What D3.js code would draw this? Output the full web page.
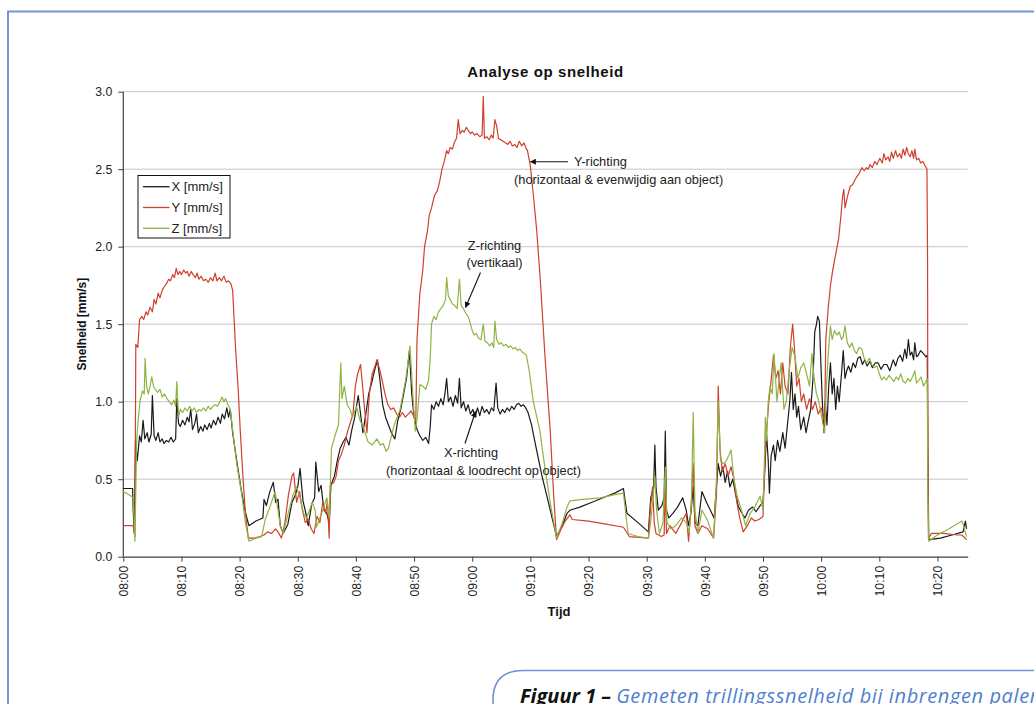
<!DOCTYPE html>
<html>
<head>
<meta charset="utf-8">
<script src="https://cdn.jsdelivr.net/npm/d3@7"></script>
<style>
  html, body { margin: 0; padding: 0; background: #fff; overflow: hidden; }
  svg { display: block; }
</style>
</head>
<body>
<svg id="chart" width="1034" height="704"></svg>
<script>
// Measured vibration velocity per direction; [minutes after 08:00, mm/s]
const seriesX = [
  [0,0.44],[1.6,0.44],[1.7,0.30],[1.9,0.15],[2.1,0.75],[2.4,0.62],[2.8,0.78],[3.1,0.74],[3.4,0.88],[3.7,0.76],
  [4.1,0.80],[4.4,0.74],[4.8,0.79],[5.0,1.04],[5.3,0.78],[5.6,0.75],[6.0,0.80],[6.3,0.74],[6.7,0.76],[7.0,0.73],
  [7.4,0.75],[7.8,0.74],[8.2,0.77],[8.6,0.74],[9.0,0.76],[9.2,1.02],[9.5,0.86],[9.8,0.84],[10.2,0.88],[10.6,0.85],
  [11.0,0.90],[11.3,0.87],[11.6,0.95],[11.9,0.82],[12.3,0.86],[12.6,0.92],[12.9,0.80],[13.3,0.84],[13.7,0.81],[14.0,0.85],
  [14.4,0.82],[14.8,0.86],[15.1,0.83],[15.5,0.88],[15.9,0.85],[16.3,0.90],[16.7,0.86],[17.0,0.92],[17.4,0.89],[17.8,0.96],
  [18.1,0.90],[18.4,0.95],[18.8,0.80],[19.5,0.62],[20.2,0.45],[20.9,0.30],[21.6,0.20],[22.8,0.23],[24.0,0.25],[24.2,0.37],
  [24.6,0.33],[25.2,0.42],[25.8,0.48],[26.2,0.35],[26.6,0.37],[27.0,0.20],[27.5,0.15],[28.3,0.21],[29.0,0.35],[29.6,0.40],
  [30.0,0.45],[30.4,0.57],[30.9,0.36],[31.4,0.28],[31.8,0.20],[32.4,0.34],[32.9,0.38],[33.1,0.61],[33.6,0.42],[34.0,0.46],
  [34.5,0.30],[35.0,0.28],[35.4,0.22],[35.7,0.46],[36.3,0.52],[36.8,0.62],[37.3,0.70],[37.8,0.74],[38.3,0.77],[38.8,0.72],
  [39.3,0.82],[39.8,0.90],[40.4,1.04],[40.8,0.92],[41.2,0.80],[41.7,0.92],[42.2,1.05],[42.7,1.12],[43.2,1.20],[43.7,1.27],
  [44.1,1.15],[44.6,0.98],[45.1,0.90],[45.6,0.85],[46.1,0.80],[46.7,0.76],[47.2,0.88],[47.7,0.95],[48.2,1.05],[48.7,1.15],
  [49.2,1.33],[49.6,1.05],[50.0,0.90],[50.5,0.82],[51.0,0.78],[51.5,0.75],[52.0,0.77],[52.5,0.73],[52.8,0.85],[53.0,0.98],
  [53.4,0.95],[53.8,1.00],[54.2,0.97],[54.6,1.02],[55.0,0.98],[55.3,1.05],[55.6,1.15],[55.9,1.00],[56.3,1.03],[56.7,0.97],
  [57.1,1.04],[57.5,0.99],[57.8,1.15],[58.1,0.96],[58.5,1.00],[58.9,0.94],[59.3,0.98],[59.7,0.92],[60.1,0.95],[60.5,0.90],
  [60.9,0.96],[61.3,0.91],[61.7,0.97],[62.1,0.93],[62.5,0.95],[62.9,0.92],[63.3,0.96],[63.7,0.94],[64.1,1.12],[64.4,0.96],
  [64.8,0.92],[65.2,0.95],[65.6,0.93],[66.0,0.96],[66.4,0.94],[66.8,0.97],[67.2,0.95],[67.6,0.98],[68.0,0.99],[68.4,0.97],
  [68.8,0.98],[69.2,0.96],[69.6,0.93],[70.2,0.85],[71.0,0.70],[72.0,0.52],[73.1,0.35],[74.5,0.13],[75.5,0.20],[76.3,0.28],
  [76.8,0.30],[78.5,0.32],[80.5,0.35],[82.5,0.38],[84.5,0.41],[86.0,0.44],[86.6,0.28],[88.5,0.22],[90.3,0.16],[90.7,0.38],
  [91.2,0.45],[91.4,0.72],[91.6,0.45],[92.0,0.30],[92.6,0.33],[93.0,0.38],[93.2,0.81],[93.4,0.30],[93.8,0.25],[94.5,0.28],
  [95.3,0.32],[96.2,0.38],[96.8,0.30],[97.2,0.20],[97.6,0.28],[98.0,0.45],[98.3,0.22],[98.8,0.20],[99.5,0.42],[100.3,0.35],
  [101.2,0.28],[101.6,0.25],[102.0,0.45],[102.3,0.60],[102.7,0.52],[103.1,0.58],[103.5,0.48],[103.9,0.55],[104.3,0.45],[104.8,0.50],
  [105.3,0.40],[105.8,0.32],[106.4,0.28],[106.9,0.25],[107.5,0.30],[108.2,0.32],[108.8,0.29],[109.5,0.33],[110.0,0.35],[110.3,0.55],
  [110.6,0.80],[110.9,0.62],[111.1,0.41],[111.4,0.65],[111.8,0.72],[112.1,0.62],[112.5,0.75],[112.9,0.68],[113.4,0.80],[113.8,0.70],
  [114.2,0.85],[114.6,1.00],[114.9,1.19],[115.2,0.95],[115.5,1.05],[115.8,0.90],[116.1,0.97],[116.5,0.82],[117.0,0.90],[117.4,0.80],
  [117.7,0.86],[118.2,0.95],[118.6,1.15],[118.9,1.45],[119.2,1.50],[119.4,1.55],[119.7,1.52],[119.9,1.30],[120.2,1.00],[120.5,0.80],
  [120.7,1.00],[121.0,0.85],[121.3,1.10],[121.6,1.25],[121.9,1.05],[122.2,1.15],[122.5,0.95],[122.8,1.10],[123.1,1.00],[123.5,1.18],
  [123.8,1.33],[124.1,1.15],[124.4,1.20],[124.7,1.23],[125.1,1.19],[125.5,1.25],[125.9,1.22],[126.3,1.28],[126.7,1.29],[127.1,1.24],
  [127.5,1.27],[127.9,1.23],[128.4,1.26],[128.8,1.22],[129.3,1.25],[129.8,1.25],[130.3,1.21],[130.8,1.24],[131.3,1.24],[131.8,1.20],
  [132.4,1.27],[132.8,1.23],[133.2,1.28],[133.6,1.30],[134.0,1.26],[134.4,1.34],[134.7,1.28],[135.0,1.40],[135.3,1.30],[135.6,1.32],
  [135.9,1.27],[136.1,1.38],[136.4,1.29],[136.7,1.30],[137.1,1.33],[137.6,1.31],[138.0,1.29],[138.25,1.30],[138.35,0.70],[138.5,0.11],
  [140.5,0.12],[142.5,0.14],[144.4,0.16],[144.8,0.23],[145.0,0.18]
];

const seriesY = [
  [0,0.20],[1.0,0.20],[1.7,0.20],[1.8,0.17],[2.0,0.13],[2.15,1.37],[2.5,1.35],[2.8,1.53],[3.2,1.55],[3.5,1.53],
  [3.9,1.58],[4.2,1.56],[4.6,1.61],[5.0,1.58],[5.3,1.66],[5.6,1.63],[6.0,1.70],[6.3,1.67],[6.7,1.72],[7.0,1.74],
  [7.4,1.76],[7.8,1.79],[8.1,1.78],[8.5,1.82],[8.8,1.80],[9.1,1.86],[9.4,1.82],[9.7,1.84],[10.0,1.82],[10.4,1.85],
  [10.7,1.83],[11.0,1.84],[11.3,1.81],[11.7,1.84],[12.0,1.82],[12.4,1.80],[12.7,1.83],[13.0,1.79],[13.4,1.81],[13.8,1.78],
  [14.2,1.79],[14.6,1.77],[15.0,1.80],[15.4,1.78],[15.8,1.83],[16.1,1.78],[16.5,1.80],[16.9,1.78],[17.3,1.81],[17.7,1.77],
  [18.1,1.78],[18.5,1.76],[18.8,1.72],[19.3,1.35],[19.8,1.05],[20.1,0.82],[20.6,0.50],[21.0,0.28],[21.5,0.12],[22.5,0.12],
  [23.5,0.13],[24.2,0.14],[24.8,0.16],[25.5,0.15],[26.2,0.18],[26.6,0.16],[27.2,0.12],[27.8,0.22],[28.4,0.40],[29.0,0.52],
  [29.3,0.54],[29.8,0.35],[30.3,0.42],[30.8,0.30],[31.3,0.22],[31.8,0.24],[32.3,0.18],[32.8,0.15],[33.3,0.26],[33.8,0.22],
  [34.3,0.35],[34.8,0.28],[35.1,0.36],[35.4,0.12],[35.6,0.46],[36.2,0.48],[36.6,0.52],[37.0,0.62],[37.5,0.66],[38.0,0.72],
  [38.5,0.80],[39.0,0.86],[39.5,0.92],[39.9,1.10],[40.3,1.18],[40.8,1.24],[41.1,1.12],[41.5,0.95],[41.9,0.80],[42.3,1.05],
  [42.8,1.18],[43.2,1.22],[43.6,1.27],[44.0,1.22],[44.5,1.14],[45.0,1.05],[45.5,0.98],[46.0,0.95],[46.5,0.96],[47.0,0.92],
  [47.5,0.90],[48.0,0.93],[48.5,0.90],[49.0,0.92],[49.5,0.94],[50.0,0.90],[50.3,0.88],[50.5,1.40],[51.0,1.70],[51.5,1.85],
  [51.8,2.00],[52.3,2.10],[52.6,2.20],[53.0,2.25],[53.5,2.33],[54.0,2.36],[54.4,2.42],[54.8,2.50],[55.2,2.55],[55.6,2.62],
  [55.9,2.60],[56.2,2.64],[56.6,2.63],[56.9,2.67],[57.3,2.70],[57.6,2.82],[57.9,2.73],[58.3,2.75],[58.6,2.74],[59.0,2.77],
  [59.3,2.75],[59.7,2.73],[60.0,2.74],[60.4,2.72],[60.8,2.73],[61.3,2.71],[61.7,2.72],[61.9,2.97],[62.1,2.70],[62.5,2.71],
  [62.9,2.69],[63.3,2.72],[63.6,2.70],[63.9,2.82],[64.2,2.78],[64.5,2.70],[64.9,2.69],[65.3,2.68],[65.7,2.67],[66.1,2.66],
  [66.5,2.68],[66.9,2.65],[67.3,2.66],[67.7,2.64],[68.1,2.68],[68.5,2.65],[68.9,2.67],[69.2,2.64],[69.5,2.62],[70.0,2.52],
  [70.6,2.30],[71.1,2.10],[71.7,1.79],[72.5,1.30],[73.4,0.82],[74.0,0.40],[74.5,0.11],[75.3,0.18],[76.0,0.23],[76.8,0.27],
  [77.2,0.24],[80.0,0.23],[83.0,0.21],[86.0,0.19],[87.0,0.13],[90.3,0.12],[90.6,0.30],[91.0,0.45],[91.3,0.22],[91.6,0.15],
  [92.5,0.13],[93.0,0.14],[93.2,0.48],[93.4,0.15],[94.0,0.20],[95.0,0.15],[96.0,0.22],[96.8,0.28],[97.2,0.10],[97.6,0.30],
  [98.0,0.60],[98.3,0.20],[98.8,0.15],[99.5,0.20],[100.5,0.18],[101.5,0.12],[102.0,0.40],[102.3,1.10],[102.6,0.70],[103.0,0.55],
  [103.5,0.60],[104.0,0.52],[104.5,0.58],[105.0,0.50],[105.5,0.35],[106.0,0.25],[106.6,0.16],[107.3,0.20],[108.0,0.25],[108.6,0.23],
  [109.3,0.24],[110.0,0.26],[110.3,0.60],[110.6,0.80],[111.0,1.00],[111.3,1.10],[111.8,1.30],[112.2,1.15],[112.6,1.20],[113.0,1.05],
  [113.4,1.25],[113.8,1.10],[114.3,1.05],[114.7,1.35],[115.1,1.50],[115.4,1.35],[115.8,1.10],[116.2,1.15],[116.6,1.00],[117.0,1.05],
  [117.5,0.95],[118.0,1.02],[118.5,0.95],[119.0,1.00],[119.5,0.92],[120.0,0.96],[120.4,0.90],[120.6,0.86],[120.8,1.40],[121.2,1.60],
  [121.6,1.75],[122.0,1.85],[122.5,1.95],[123.0,2.05],[123.4,2.20],[123.7,2.33],[123.9,2.37],[124.1,2.25],[124.5,2.32],[125.0,2.39],
  [125.4,2.40],[125.8,2.43],[126.1,2.45],[126.5,2.47],[127.0,2.51],[127.4,2.49],[127.8,2.51],[128.1,2.50],[128.4,2.53],[128.8,2.51],
  [129.2,2.55],[129.6,2.53],[130.1,2.57],[130.5,2.54],[130.8,2.60],[131.1,2.56],[131.5,2.58],[131.8,2.55],[132.1,2.61],[132.4,2.57],
  [132.8,2.62],[133.1,2.58],[133.5,2.60],[133.8,2.57],[134.1,2.63],[134.4,2.59],[134.7,2.64],[135.0,2.60],[135.3,2.58],[135.6,2.62],
  [135.9,2.57],[136.1,2.63],[136.4,2.56],[136.8,2.57],[137.1,2.54],[137.5,2.55],[137.9,2.52],[138.2,2.50],[138.3,1.90],[138.35,0.70],
  [138.45,0.12],[139.0,0.15],[141.0,0.15],[143.5,0.14],[144.2,0.14],[145.0,0.11]
];

const seriesZ = [
  [0,0.42],[1.0,0.40],[1.7,0.38],[2.0,0.10],[2.3,0.75],[2.6,0.90],[2.9,1.01],[3.3,1.07],[3.6,1.05],[3.75,1.28],
  [4.0,1.10],[4.3,1.05],[4.6,1.10],[4.9,1.16],[5.2,1.10],[5.5,1.08],[5.9,1.06],[6.3,1.08],[6.7,1.03],[7.1,1.05],
  [7.5,1.02],[7.9,1.00],[8.3,0.98],[8.7,1.01],[9.0,0.97],[9.2,1.13],[9.5,0.90],[9.8,0.95],[10.2,0.93],[10.6,0.96],
  [11.0,0.94],[11.4,0.97],[11.8,0.94],[12.2,0.96],[12.6,0.93],[13.0,0.95],[13.4,0.94],[13.8,0.96],[14.2,0.94],[14.6,0.97],
  [15.0,0.95],[15.4,0.97],[15.8,0.98],[16.2,0.97],[16.6,1.00],[17.0,1.03],[17.3,1.00],[17.6,1.02],[18.0,0.98],[18.4,0.95],
  [18.8,0.82],[19.5,0.60],[20.3,0.42],[21.0,0.22],[21.6,0.10],[22.8,0.12],[23.8,0.13],[24.4,0.24],[25.2,0.32],[26.1,0.42],
  [26.6,0.30],[27.0,0.20],[27.5,0.15],[28.5,0.30],[29.2,0.40],[29.8,0.45],[30.4,0.38],[31.0,0.28],[31.5,0.25],[32.5,0.35],
  [33.0,0.30],[33.2,0.19],[33.8,0.25],[34.3,0.30],[35.0,0.38],[35.4,0.25],[35.8,0.70],[36.4,0.78],[37.0,0.85],[37.4,1.25],
  [37.6,1.02],[38.0,1.10],[38.5,0.98],[39.0,0.95],[39.4,0.90],[40.1,0.97],[40.7,0.88],[41.3,0.83],[42.1,0.74],[42.8,0.72],
  [43.6,0.76],[44.2,0.72],[44.7,0.73],[45.2,0.68],[45.6,0.70],[46.1,0.78],[46.6,0.85],[47.1,0.90],[47.6,0.95],[48.1,1.05],
  [48.6,1.15],[49.3,1.36],[49.7,1.10],[50.2,0.81],[50.5,0.88],[51.0,1.11],[51.5,1.10],[52.0,1.08],[52.5,1.14],[52.8,1.30],
  [53.0,1.50],[53.4,1.55],[53.8,1.53],[54.2,1.58],[54.6,1.60],[55.0,1.62],[55.4,1.66],[55.6,1.80],[55.9,1.68],[56.2,1.66],
  [56.6,1.63],[57.0,1.62],[57.4,1.60],[57.8,1.79],[58.1,1.62],[58.5,1.60],[58.9,1.57],[59.3,1.55],[59.7,1.50],[60.0,1.46],
  [60.3,1.43],[60.7,1.44],[61.1,1.41],[61.5,1.40],[61.9,1.50],[62.2,1.39],[62.6,1.38],[63.0,1.36],[63.4,1.38],[63.7,1.35],
  [63.9,1.52],[64.2,1.40],[64.6,1.37],[65.0,1.38],[65.4,1.36],[65.8,1.37],[66.2,1.35],[66.6,1.36],[67.0,1.34],[67.4,1.35],
  [67.8,1.33],[68.2,1.34],[68.6,1.32],[69.0,1.31],[69.3,1.30],[69.8,1.20],[70.5,1.00],[71.6,0.82],[72.4,0.60],[73.4,0.35],
  [74.5,0.12],[75.5,0.22],[76.3,0.32],[76.8,0.36],[79.0,0.37],[82.0,0.38],[84.5,0.40],[86.0,0.41],[86.8,0.15],[88.5,0.13],
  [90.3,0.12],[90.6,0.20],[91.1,0.38],[91.4,0.52],[91.7,0.30],[92.2,0.15],[92.8,0.22],[93.2,0.58],[93.5,0.22],[94.2,0.18],
  [95.0,0.20],[96.0,0.25],[96.8,0.22],[97.3,0.16],[97.7,0.35],[98.0,0.93],[98.3,0.30],[98.8,0.15],[99.5,0.30],[100.4,0.24],
  [101.5,0.12],[102.0,0.50],[102.3,1.00],[102.7,0.62],[103.2,0.60],[103.7,0.62],[104.2,0.66],[104.5,0.69],[105.0,0.50],[105.5,0.40],
  [106.3,0.30],[107.0,0.20],[107.8,0.28],[108.6,0.32],[109.5,0.39],[110.0,0.30],[110.2,0.55],[110.4,0.90],[110.6,0.75],[110.9,1.00],
  [111.2,1.10],[111.6,1.05],[111.9,1.31],[112.4,1.00],[112.8,1.15],[113.1,1.25],[113.6,0.95],[114.0,1.00],[114.5,1.20],[115.0,1.35],
  [115.5,1.29],[116.0,1.15],[116.5,1.22],[117.0,1.25],[117.5,1.18],[118.0,1.10],[118.4,1.31],[118.8,1.15],[119.2,1.05],[119.6,1.00],
  [120.0,0.92],[120.6,0.80],[120.9,1.10],[121.3,1.35],[121.6,1.49],[121.9,1.40],[122.3,1.46],[122.7,1.43],[123.1,1.45],[123.5,1.40],
  [123.8,1.42],[124.1,1.49],[124.5,1.38],[124.9,1.35],[125.3,1.38],[125.7,1.33],[126.1,1.31],[126.5,1.35],[127.0,1.34],[127.4,1.28],
  [127.8,1.25],[128.3,1.28],[128.7,1.24],[129.1,1.22],[129.6,1.23],[130.0,1.18],[130.4,1.14],[130.8,1.16],[131.2,1.14],[131.7,1.17],
  [132.1,1.15],[132.5,1.13],[132.9,1.16],[133.3,1.14],[133.7,1.18],[134.1,1.13],[134.5,1.12],[134.9,1.15],[135.3,1.13],[135.7,1.16],
  [136.1,1.20],[136.4,1.12],[136.8,1.14],[137.2,1.16],[137.6,1.10],[138.0,1.13],[138.25,1.15],[138.35,0.40],[138.5,0.10],[140.0,0.14],
  [142.0,0.18],[144.2,0.23],[144.5,0.20],[145.0,0.13]
];

const seriesNames = ["X [mm/s]", "Y [mm/s]", "Z [mm/s]"];
const seriesColors = ["#1a1a1a", "#d0402c", "#8fb443"];
const yTickValues = [0, 0.5, 1.0, 1.5, 2.0, 2.5, 3.0];
const timeStart = [8, 0];       // 08:00
const timeSpanMinutes = 145.2;  // through about 10:25

const svg = d3.select("#chart");
const font = "'Liberation Sans', Arial, sans-serif";

// page frame
svg.append("path")
  .attr("d", "M8,1000 L8,11.5 L1100,11.5")
  .attr("fill", "none").attr("stroke", "#7296d6").attr("stroke-width", 2);

const plot = { left: 123.3, right: 967.7, top: 91.7, bottom: 556.7 };
const base = new Date(2000, 0, 1, timeStart[0], timeStart[1]);
const toDate = m => new Date(base.getTime() + m * 60000);

const x = d3.scaleTime()
  .domain([base, toDate(timeSpanMinutes)])
  .range([plot.left, plot.right]);
const y = d3.scaleLinear().domain([0, 3]).range([plot.bottom, plot.top]);

// grid
svg.append("g").selectAll("line")
  .data(yTickValues.filter(v => v > 0))
  .join("line")
  .attr("x1", plot.left).attr("x2", plot.right)
  .attr("y1", d => y(d)).attr("y2", d => y(d))
  .attr("stroke", "#c6c6c6").attr("stroke-width", 1);

// axes
const yAxis = svg.append("g")
  .attr("transform", `translate(${plot.left},0)`)
  .call(d3.axisLeft(y).tickValues(yTickValues).tickFormat(d3.format(".1f")).tickSize(5).tickPadding(6));
const xAxis = svg.append("g")
  .attr("transform", `translate(0,${plot.bottom})`)
  .call(d3.axisBottom(x).ticks(d3.timeMinute.every(10)).tickFormat(d3.timeFormat("%H:%M")).tickSize(5).tickSizeOuter(0));

[yAxis, xAxis].forEach(g => {
  g.select(".domain").attr("stroke", "#404040").attr("stroke-width", 1.2);
  g.selectAll(".tick line").attr("stroke", "#404040");
  g.selectAll("text").attr("font-family", font).attr("font-size", 12.3).attr("fill", "#222");
});
yAxis.select(".domain").attr("d", `M-0,${plot.bottom}V${plot.top}`);
xAxis.selectAll(".tick text")
  .attr("transform", "rotate(-90)")
  .attr("text-anchor", "end")
  .attr("x", -9).attr("y", 0).attr("dy", "0.35em");

// series lines
const line = d3.line().x(d => x(toDate(d[0]))).y(d => y(d[1]));
[seriesX, seriesY, seriesZ].forEach((s, i) => {
  svg.append("path").datum(s)
    .attr("d", line)
    .attr("fill", "none")
    .attr("stroke", seriesColors[i])
    .attr("stroke-width", 1.2)
    .attr("stroke-linejoin", "round");
});

// titles
svg.append("text").attr("x", (plot.left + plot.right) / 2).attr("y", 77)
  .attr("text-anchor", "middle").attr("font-family", font).attr("font-size", 15)
  .attr("letter-spacing", 0.6)
  .attr("font-weight", "bold").attr("fill", "#111").text("Analyse op snelheid");
svg.append("text").attr("transform", `translate(86,${(plot.top + plot.bottom) / 2}) rotate(-90)`)
  .attr("text-anchor", "middle").attr("font-family", font).attr("font-size", 12)
  .attr("font-weight", "bold").attr("fill", "#111").text("Snelheid [mm/s]");
svg.append("text").attr("x", 559).attr("y", 616)
  .attr("text-anchor", "middle").attr("font-family", font).attr("font-size", 13)
  .attr("font-weight", "bold").attr("fill", "#111").text("Tijd");

// legend
const legend = svg.append("g");
legend.append("rect").attr("x", 138).attr("y", 175.5).attr("width", 92).attr("height", 62.5)
  .attr("fill", "#fff").attr("stroke", "#111").attr("stroke-width", 1);
seriesNames.forEach((name, i) => {
  const ly = 186.7 + i * 20.8;
  legend.append("line").attr("x1", 143).attr("x2", 169.5).attr("y1", ly).attr("y2", ly)
    .attr("stroke", seriesColors[i]).attr("stroke-width", 1.3);
  legend.append("text").attr("x", 171.5).attr("y", ly).attr("dy", "0.36em")
    .attr("font-family", font).attr("font-size", 13).attr("fill", "#222").text(name);
});

// annotations
svg.append("defs").append("marker")
  .attr("id", "arrow").attr("viewBox", "0 0 10 10").attr("refX", 9).attr("refY", 5)
  .attr("markerWidth", 7).attr("markerHeight", 6).attr("markerUnits", "userSpaceOnUse")
  .attr("orient", "auto")
  .append("path").attr("d", "M0,0 L10,5 L0,10 Z").attr("fill", "#111");

const notes = [
  { lines: ["Y-richting"], x: 574, y: 166, anchor: "start" },
  { lines: ["(horizontaal & evenwijdig aan object)"], x: 514, y: 183.5, anchor: "start" },
  { lines: ["Z-richting", "(vertikaal)"], x: 494.5, y: 249.5, anchor: "middle" },
  { lines: ["X-richting"], x: 471, y: 457, anchor: "middle" },
  { lines: ["(horizontaal & loodrecht op object)"], x: 386, y: 474.5, anchor: "start" }
];
notes.forEach(n => {
  n.lines.forEach((t, k) => {
    svg.append("text").attr("x", n.x).attr("y", n.y + k * 17.5)
      .attr("text-anchor", n.anchor).attr("font-family", font).attr("font-size", 12.8)
      .attr("fill", "#222").text(t);
  });
});
const arrows = [
  [568, 161.7, 530.5, 161.7],
  [480.5, 272.5, 465.5, 307.5],
  [465, 443.5, 475.5, 411.5]
];
arrows.forEach(a => {
  svg.append("line").attr("x1", a[0]).attr("y1", a[1]).attr("x2", a[2]).attr("y2", a[3])
    .attr("stroke", "#111").attr("stroke-width", 1.1).attr("marker-end", "url(#arrow)");
});

// caption panel
svg.append("path")
  .attr("d", "M493,720 L493,700 Q493,670.5 523,670.5 L1100,670.5")
  .attr("fill", "none").attr("stroke", "#6f93d4").attr("stroke-width", 1.6);
const cap = svg.append("text").attr("x", 520).attr("y", 703)
  .attr("font-family", "'Open Sans', 'Noto Sans', sans-serif").attr("font-size", 20)
  .attr("font-style", "italic");
cap.append("tspan").attr("font-weight", "bold").attr("fill", "#111").text("Figuur 1 – ");
cap.append("tspan").attr("fill", "#4f7fcf").attr("letter-spacing", 0.6)
  .text("Gemeten trillingssnelheid bij inbrengen palen");
</script>
</body>
</html>
